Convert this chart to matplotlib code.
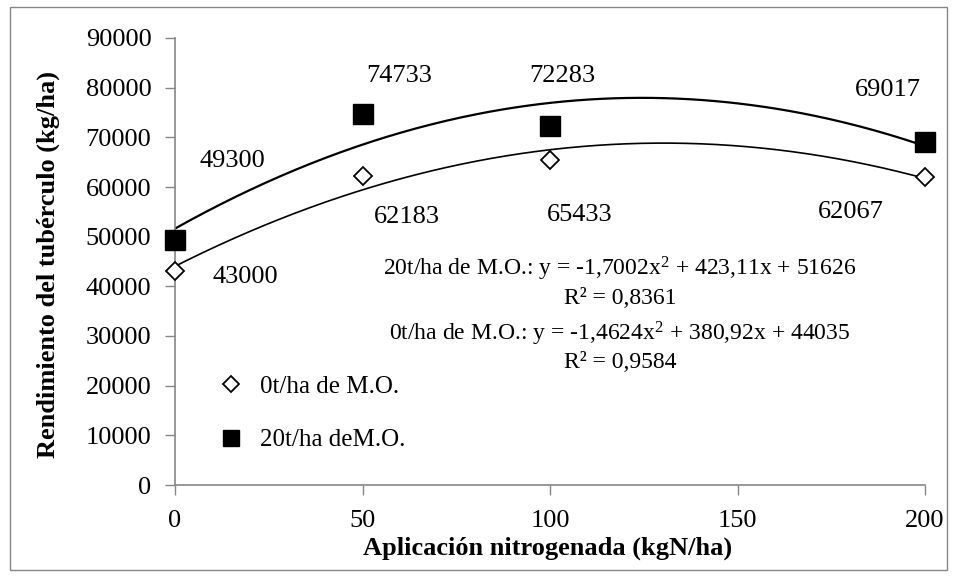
import numpy as np
import matplotlib
matplotlib.use("Agg")
import matplotlib.pyplot as plt
from matplotlib.patches import Rectangle

x_vals = [0, 50, 100, 200]
y_0t = [43000, 62183, 65433, 62067]
y_20t = [49300, 74733, 72283, 69017]
coef_0t = [-1.4624, 380.92, 44035]
coef_20t = [-1.7002, 423.11, 51626]
labels_0t = ["43000", "62183", "65433", "62067"]
labels_20t = ["49300", "74733", "72283", "69017"]
xticks = [0, 50, 100, 150, 200]
yticks = [0, 10000, 20000, 30000, 40000, 50000, 60000, 70000, 80000, 90000]
eq_20t = "20t/ha de M.O.: y = -1,7002x$^{2}$ + 423,11x + 51626"
r2_20t = "R² = 0,8361"
eq_0t = "0t/ha de M.O.: y = -1,4624x$^{2}$ + 380,92x + 44035"
r2_0t = "R² = 0,9584"

plt.rcParams['font.family'] = ['Liberation Serif', 'DejaVu Serif']
plt.rcParams['mathtext.fontset'] = 'custom'
plt.rcParams['mathtext.rm'] = 'Liberation Serif'
plt.rcParams['mathtext.default'] = 'regular'
FS = 19
FS_EQ = 17
FS_LEG = 18
gray = '#868686'

fig = plt.figure(figsize=(9.58, 5.79), dpi=100)
ax = fig.add_axes([175/958, 1-485/579, 750/958, 447/579])

xx = np.linspace(0, 200, 300)
ax.plot(xx, np.polyval(coef_20t, xx), color='black', lw=1.6, zorder=2)
ax.plot(xx, np.polyval(coef_0t, xx), color='black', lw=1.2, zorder=2)

ax.plot(x_vals, y_0t, linestyle='none', marker='D', markersize=9, markerfacecolor='white',
        markeredgecolor='black', markeredgewidth=1.3, label='0t/ha de M.O.', zorder=3, clip_on=False)
ax.plot(x_vals, y_20t, linestyle='none', marker='s', markersize=14, markerfacecolor='black',
        markeredgecolor='black', label='20t/ha deM.O.', zorder=3, clip_on=False)

off_20t = [(57, -79), (37, -38), (12, -50), (-37, -52)]
off_0t = [(70, 6), (44, 41), (30, 55), (-74, 35)]
for xv, yv, lab, (dx, dy) in zip(x_vals, y_20t, labels_20t, off_20t):
    ax.annotate(lab, (xv, yv), xytext=(dx, -dy), textcoords='offset pixels',
                ha='center', va='center', fontsize=FS)
for xv, yv, lab, (dx, dy) in zip(x_vals, y_0t, labels_0t, off_0t):
    ax.annotate(lab, (xv, yv), xytext=(dx, -dy), textcoords='offset pixels',
                ha='center', va='center', fontsize=FS)

def fig_text(px, py, s):
    fig.text(px/958, 1-py/579, s, ha='center', va='center', fontsize=FS_EQ)

fig_text(620, 269, eq_20t)
fig_text(620, 298, r2_20t)
fig_text(620, 334, eq_0t)
fig_text(620, 362, r2_0t)

ax.set_xlim(0, 200)
ax.set_ylim(0, 90000)
ax.set_xticks(xticks)
ax.set_yticks(yticks)
ax.tick_params(axis='both', direction='out', length=7, width=1, color=gray, labelsize=FS)
ax.tick_params(axis='x', pad=11)
ax.tick_params(axis='y', pad=10)
for s in ['top', 'right']:
    ax.spines[s].set_visible(False)
for s in ['left', 'bottom']:
    ax.spines[s].set_color(gray)
    ax.spines[s].set_linewidth(1.2)

ax.set_xlabel("Aplicación nitrogenada (kgN/ha)", fontsize=FS, fontweight='bold')
ax.set_ylabel("Rendimiento del tubérculo (kg/ha)", fontsize=FS, fontweight='bold')
ax.xaxis.set_label_coords((548-175)/750, (485-548)/447)
ax.yaxis.set_label_coords((48-175)/750, (485-265)/447)
ax.xaxis.label.set_va('center')
ax.yaxis.label.set_va('center')

leg = ax.legend(loc='lower left', bbox_to_anchor=(18/750, 11/447), frameon=False, fontsize=FS_LEG,
                labelspacing=1.25, handletextpad=0.6, handlelength=1.2, markerscale=0.85)

fig.patches.append(Rectangle((10/958, 1-570/579), 937/958, 563/579, transform=fig.transFigure,
                             fill=False, edgecolor=gray, lw=1))

fig.savefig("out.png", dpi=100)
